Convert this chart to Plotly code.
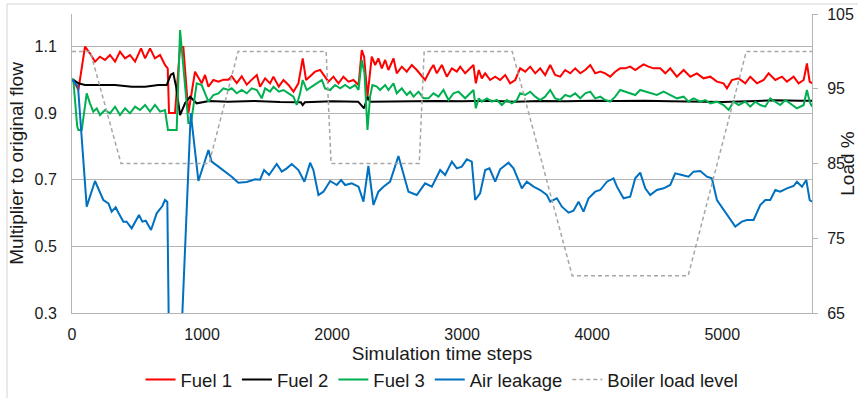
import plotly.graph_objects as go

# ---------------- data ----------------
fuel1_x = [0, 10, 49, 100, 138, 177, 215, 254, 292, 331, 369, 408, 446, 485, 531, 562, 600, 638, 677, 715, 736,
           746, 792, 831, 856, 895, 946, 997, 1023, 1049, 1087, 1126, 1164, 1203, 1228, 1267, 1305, 1344, 1382, 1421,
           1446, 1485, 1523, 1549, 1590, 1626, 1665, 1703, 1741, 1774, 1800, 1831, 1869, 1908, 1933, 1972, 2010, 2049,
           2087, 2126, 2164, 2203, 2228, 2246, 2272, 2305, 2331, 2356, 2382, 2408, 2433, 2472, 2497, 2536, 2574, 2613,
           2651, 2690, 2715, 2754, 2779, 2805, 2844, 2882, 2921, 2959, 2985, 3023, 3062, 3087, 3105, 3128, 3151, 3177,
           3215, 3254, 3292, 3331, 3369, 3408, 3446, 3485, 3523, 3562, 3600, 3638, 3677, 3715, 3754, 3792, 3831, 3869,
           3908, 3946, 3985, 4023, 4062, 4100, 4138, 4177, 4215, 4254, 4292, 4331, 4369, 4395, 4433, 4472, 4523, 4562,
           4600, 4651, 4703, 4754, 4805, 4856, 4908, 4959, 5010, 5036, 5074, 5126, 5177, 5215, 5267, 5318, 5356, 5408,
           5459, 5497, 5549, 5587, 5626, 5651, 5672, 5690]
fuel1_y = [1.0, 1.0, 0.969, 1.099, 1.079, 1.054, 1.069, 1.059, 1.074, 1.054, 1.084, 1.064, 1.074, 1.054, 1.094, 1.064,
           1.094, 1.064, 1.074, 1.044, 1.034,
           0.9, 0.9, 1.098, 1.098, 0.9, 1.024, 0.989, 1.014, 0.979, 0.999, 0.994, 1.0, 1.0, 1.01, 0.99, 1.01, 0.985,
           1.0, 1.014,
           0.979, 1.004, 0.989, 1.009, 0.979, 0.999, 0.984, 0.964, 0.989, 1.064, 0.999, 1.009, 1.024, 1.029, 1.014,
           0.994, 1.009, 0.989,
           1.009, 0.994, 0.999, 0.984, 1.089, 1.069, 0.949, 1.069, 1.044, 1.064, 1.034, 1.059, 1.029, 1.064, 1.019,
           1.039, 1.024, 1.044,
           1.029, 1.009, 0.999, 1.029, 1.044, 1.019, 1.044, 1.009, 1.034, 1.024, 1.039, 1.019, 1.034, 1.044, 0.989,
           1.029, 1.004, 1.019,
           0.999, 1.009, 0.999, 1.014, 0.989, 0.999, 1.034, 1.024, 1.039, 1.019, 1.034, 1.014, 1.044, 1.014, 1.009,
           1.029, 1.019, 1.034,
           1.019, 1.029, 1.044, 1.019, 1.024, 1.019, 1.009, 1.024, 1.034, 1.034, 1.039, 1.029, 1.039, 1.046, 1.039,
           1.034, 1.034, 1.019,
           1.034, 1.009, 1.029, 1.009, 1.019, 1.004, 1.009, 0.994, 0.989, 0.974, 0.999, 1.004, 0.989, 1.009, 0.989,
           0.999, 1.019, 0.999,
           1.009, 0.994, 1.009, 0.989, 0.999, 1.049, 0.994, 0.989]

fuel2_x = [0, 10, 49, 100, 203, 331, 459, 562, 664, 728, 760, 779, 800, 831, 870, 908, 959, 1054, 1200, 1400, 1600,
           1760, 1774, 1790, 2000, 2200, 2246, 2272, 2292, 2500, 2800, 3000, 3200, 3400, 3600, 3800, 4000, 4200, 4400,
           4600, 4800, 5000, 5200, 5400, 5600, 5690]
fuel2_y = [1.0, 1.0, 0.989, 0.984, 0.984, 0.984, 0.979, 0.979, 0.984, 0.984, 1.015, 1.019, 0.98, 0.894, 0.93, 0.949,
           0.929, 0.936, 0.934, 0.936, 0.933,
           0.932, 0.924, 0.932, 0.935, 0.934, 0.914, 0.949, 0.934, 0.935, 0.936, 0.935, 0.937, 0.934, 0.936, 0.935,
           0.937, 0.936, 0.937,
           0.935, 0.934, 0.933, 0.935, 0.938, 0.937, 0.937]

fuel3_x = [0, 10, 40, 49, 75, 113, 138, 164, 190, 215, 254, 292, 331, 369, 408, 446, 485, 523, 562, 600, 638, 677,
           715, 738, 805, 831, 895, 915, 959, 997, 1023, 1049, 1087, 1126, 1164, 1203, 1228, 1267, 1305, 1344, 1382,
           1421, 1459, 1485, 1523, 1549, 1590, 1626, 1665, 1703, 1728, 1754, 1774, 1805, 1844, 1882, 1921, 1946, 1985,
           2023, 2062, 2100, 2138, 2177, 2203, 2228, 2249, 2272, 2292, 2310, 2344, 2369, 2408, 2433, 2472, 2497, 2536,
           2574, 2600, 2626, 2664, 2703, 2741, 2779, 2818, 2856, 2895, 2933, 2972, 3023, 3062, 3087, 3105, 3128, 3151,
           3190, 3228, 3267, 3305, 3344, 3382, 3421, 3446, 3485, 3523, 3562, 3600, 3638, 3677, 3715, 3754, 3792, 3831,
           3869, 3908, 3946, 3985, 4023, 4062, 4100, 4138, 4177, 4215, 4254, 4292, 4331, 4369, 4408, 4446, 4497, 4549,
           4600, 4651, 4703, 4741, 4779, 4831, 4869, 4908, 4959, 5010, 5049, 5087, 5126, 5177, 5215, 5254, 5292, 5331,
           5369, 5408, 5446, 5485, 5536, 5574, 5626, 5651, 5672, 5690]
fuel3_y = [1.0, 1.0, 0.86, 0.849, 0.849, 0.959, 0.929, 0.904, 0.914, 0.894, 0.909, 0.899, 0.919, 0.894, 0.914, 0.899,
           0.919, 0.909, 0.924, 0.904, 0.924, 0.904,
           0.909, 0.849, 0.849, 1.149, 0.87, 0.87, 0.989, 0.984, 0.959, 0.934, 0.954, 0.959, 0.974, 0.969, 0.974,
           0.959, 0.969, 0.959, 0.974,
           0.969, 0.944, 0.974, 0.964, 0.979, 0.964, 0.969, 0.959, 0.949, 0.924, 0.959, 0.999, 0.969, 0.979, 0.989,
           0.999, 0.974, 0.969,
           0.984, 0.974, 0.984, 0.974, 0.984, 0.969, 1.059, 1.019, 0.849, 0.949, 0.984, 0.979, 0.969, 0.984, 0.969,
           0.989, 0.959, 0.974,
           0.954, 0.964, 0.949, 0.964, 0.944, 0.944, 0.959, 0.949, 0.969, 0.939, 0.959, 0.964, 0.944, 0.959, 0.969,
           0.914, 0.944, 0.934,
           0.944, 0.934, 0.939, 0.924, 0.939, 0.929, 0.939, 0.959, 0.954, 0.964, 0.949, 0.939, 0.949, 0.969, 0.944,
           0.939, 0.954, 0.949,
           0.959, 0.944, 0.959, 0.964, 0.944, 0.949, 0.939, 0.934, 0.949, 0.969, 0.964, 0.959, 0.954, 0.969, 0.964,
           0.959, 0.954, 0.964,
           0.954, 0.944, 0.949, 0.934, 0.944, 0.934, 0.939, 0.929, 0.934, 0.924, 0.909, 0.934, 0.924, 0.934, 0.919,
           0.934, 0.924, 0.919,
           0.944, 0.934, 0.924, 0.939, 0.924, 0.914, 0.924, 0.969, 0.934, 0.919]

air_x = [0, 46, 113, 177, 241, 280, 305, 336, 357, 395, 420, 459, 515, 541, 567, 608, 651, 695, 715, 733, 746, 838,
         913, 972, 1049, 1074, 1126, 1177, 1228, 1279, 1344, 1408, 1446, 1477, 1515, 1574, 1613, 1651, 1690, 1741,
         1787, 1831, 1856, 1895, 1933, 1985, 2036, 2069, 2100, 2151, 2203, 2241, 2279, 2318, 2356, 2395, 2446, 2510,
         2549, 2587, 2651, 2715, 2767, 2831, 2869, 2921, 2959, 2997, 3036, 3074, 3100, 3138, 3177, 3210, 3254, 3292,
         3356, 3395, 3459, 3497, 3549, 3600, 3651, 3677, 3728, 3767, 3818, 3856, 3895, 3933, 3972, 4023, 4062, 4113,
         4164, 4190, 4241, 4292, 4331, 4369, 4408, 4446, 4497, 4549, 4600, 4638, 4690, 4741, 4779, 4831, 4882, 4920,
         4959, 5010, 5062, 5100, 5151, 5190, 5241, 5292, 5331, 5369, 5408, 5446, 5497, 5549, 5574, 5613, 5646, 5672,
         5690]
air_y = [1.0, 0.98, 0.619, 0.696, 0.639, 0.629, 0.604, 0.617, 0.601, 0.574, 0.574, 0.554, 0.594, 0.574, 0.577, 0.549,
         0.599, 0.621, 0.639, 0.633, 0.2, 0.2,
         0.9, 0.696, 0.789, 0.754, 0.739, 0.724, 0.709, 0.691, 0.693, 0.701, 0.7, 0.729, 0.714, 0.747, 0.724, 0.734,
         0.747, 0.729,
         0.694, 0.751, 0.729, 0.654, 0.664, 0.696, 0.684, 0.699, 0.684, 0.689, 0.679, 0.634, 0.741, 0.624, 0.664,
         0.679, 0.694, 0.771,
         0.713, 0.664, 0.654, 0.689, 0.679, 0.729, 0.714, 0.754, 0.734, 0.739, 0.761, 0.754, 0.639, 0.659, 0.729,
         0.734, 0.694, 0.731,
         0.751, 0.734, 0.674, 0.694, 0.679, 0.669, 0.654, 0.634, 0.644, 0.619, 0.601, 0.607, 0.634, 0.604, 0.644,
         0.664, 0.669, 0.694,
         0.704, 0.679, 0.644, 0.649, 0.704, 0.721, 0.674, 0.654, 0.669, 0.674, 0.684, 0.719, 0.714, 0.709, 0.724,
         0.726, 0.709, 0.704,
         0.639, 0.609, 0.579, 0.559, 0.574, 0.579, 0.579, 0.624, 0.639, 0.639, 0.669, 0.664, 0.674, 0.681, 0.694,
         0.679, 0.699, 0.639,
         0.634]

load_x = [0, 140, 377, 1054, 1277, 1954, 1992, 2670, 2708, 3385, 3846, 4738, 5185, 5690]
load_y = [100, 100, 85, 85, 100, 100, 85, 85, 100, 100, 70, 70, 100, 100]

left_ticks = [0.3, 0.5, 0.7, 0.9, 1.1]
left_labels = ["0.3", "0.5", "0.7", "0.9", "1.1"]
right_ticks = [65, 75, 85, 95, 105]
x_ticks = [0, 1000, 2000, 3000, 4000, 5000]

# ---------------- figure ----------------
FONT = "Liberation Sans"
GRID = "#b4b4b4"

fig = go.Figure()
fig.add_trace(go.Scatter(x=fuel1_x, y=fuel1_y, mode="lines", name="Fuel 1",
                         line=dict(color="#ff0000", width=2)))
fig.add_trace(go.Scatter(x=fuel2_x, y=fuel2_y, mode="lines", name="Fuel 2",
                         line=dict(color="#000000", width=2)))
fig.add_trace(go.Scatter(x=fuel3_x, y=fuel3_y, mode="lines", name="Fuel 3",
                         line=dict(color="#00b050", width=2)))
fig.add_trace(go.Scatter(x=air_x, y=air_y, mode="lines", name="Air leakage",
                         line=dict(color="#0070c0", width=2)))
fig.add_trace(go.Scatter(x=load_x, y=load_y, mode="lines", name="Boiler load level", yaxis="y2",
                         line=dict(color="#a6a6a6", width=1.5, dash="4px,3px")))

L, R, T, B = 72, 46, 14, 85
PW, PH = 858 - L - R, 398 - T - B


def px_to_paper_x(px):
    return (px - L) / PW


def py_to_paper_y(py):
    return (T + PH - py) / PH


fig.update_layout(
    width=858, height=398,
    margin=dict(l=L, r=R, t=T, b=B, autoexpand=False),
    paper_bgcolor="white", plot_bgcolor="white",
    font=dict(family=FONT, size=16, color="#1a1a1a"),
    showlegend=True,
    legend=dict(orientation="h", x=0.5, xanchor="center", y=py_to_paper_y(380), yanchor="middle",
                font=dict(size=18.5), traceorder="normal", itemwidth=30, bgcolor="rgba(0,0,0,0)"),
    xaxis=dict(range=[0, 5690], tickvals=x_ticks, showgrid=False, zeroline=False, automargin=False,
               showline=True, linecolor=GRID, linewidth=1,
               ticks="outside", ticklen=7, tickcolor="rgba(0,0,0,0)",
               tickfont=dict(size=16),
               title=dict(text="Simulation time steps", font=dict(size=19), standoff=0)),
    yaxis=dict(range=[0.3, 1.197], tickvals=left_ticks, ticktext=left_labels, automargin=False,
               showgrid=True, gridcolor=GRID, gridwidth=1, zeroline=False,
               showline=True, linecolor=GRID, linewidth=1,
               ticks="outside", ticklen=11, tickcolor="rgba(0,0,0,0)",
               tickfont=dict(size=16),
               title=dict(text="Multiplier to original flow", font=dict(size=19), standoff=5)),
    yaxis2=dict(range=[65, 105], tickvals=right_ticks, overlaying="y", side="right", automargin=False,
                showgrid=False, zeroline=False,
                showline=True, linecolor=GRID, linewidth=1,
                ticks="outside", ticklen=5, tickcolor=GRID, ticklabelstandoff=6,
                tickfont=dict(size=16),
                title=dict(text="Load %", font=dict(size=19), standoff=2)),
    shapes=[
        dict(type="line", xref="paper", yref="paper",
             x0=px_to_paper_x(7), x1=px_to_paper_x(7), y0=py_to_paper_y(4), y1=py_to_paper_y(400),
             line=dict(color="#d4d4d4", width=1)),
        dict(type="line", xref="paper", yref="paper",
             x0=px_to_paper_x(7), x1=px_to_paper_x(860), y0=py_to_paper_y(4), y1=py_to_paper_y(4),
             line=dict(color="#d4d4d4", width=1)),
    ],
)

fig.write_html("out.html")
